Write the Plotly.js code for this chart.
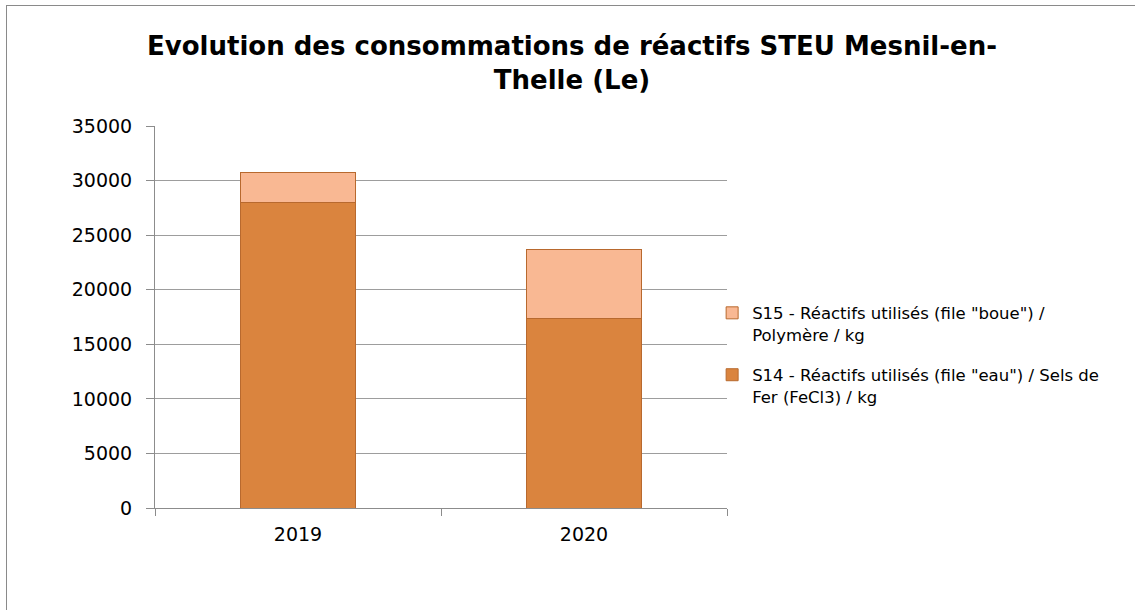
<!DOCTYPE html>
<html>
<head>
<meta charset="utf-8">
<script src="https://cdn.plot.ly/plotly-3.0.1.min.js"></script>
<style>
html,body{margin:0;padding:0;background:#fff;overflow:hidden;}
#wrap{position:relative;width:1135px;height:610px;overflow:hidden;}
#chart{position:absolute;left:0;top:0;width:1135px;height:610px;}
#frame{position:absolute;left:6px;top:5px;width:1160px;height:640px;border:1.5px solid #8a8a8a;pointer-events:none;}
</style>
</head>
<body>
<div id="wrap"><div id="chart"></div><div id="frame"></div></div>
<script>
const categories = ["2019", "2020"];
const s14Values = [28000, 17400];
const s15Values = [2750, 6250];
const s14Name = "S14 - Réactifs utilisés (file \"eau\") / Sels de<br>Fer (FeCl3) / kg";
const s15Name = "S15 - Réactifs utilisés (file \"boue\") /<br>Polymère / kg";
const yTicks = [0, 5000, 10000, 15000, 20000, 25000, 30000, 35000];
const titleText = "Evolution des consommations de réactifs STEU Mesnil-en-<br>Thelle (Le)";

const FONT = "DejaVu Sans, sans-serif";

const data = [
  {
    type: "bar", x: categories, y: s14Values, name: s14Name,
    legendgroup: "s14", legendrank: 2,
    marker: {color: "#DA843E", line: {color: "#B8692E", width: 1}},
    width: 0.4
  },
  {
    type: "bar", x: categories, y: s15Values, name: s15Name,
    legendgroup: "s15", legendrank: 1,
    marker: {color: "#F9B893", line: {color: "#B8692E", width: 1}},
    width: 0.4
  }
];

const layout = {
  width: 1135, height: 610,
  margin: {l: 155, r: 408, t: 126, b: 102},
  paper_bgcolor: "#ffffff", plot_bgcolor: "#ffffff",
  barmode: "stack",
  font: {family: FONT, color: "#000"},
  annotations: [{
    text: titleText,
    xref: "paper", yref: "paper",
    x: 0.729, y: 1.166, xanchor: "center", yanchor: "middle",
    showarrow: false, align: "center",
    font: {family: FONT, size: 26, color: "#000", weight: "bold"}
  }],
  xaxis: {
    type: "category",
    tickson: "boundaries",
    ticks: "outside", ticklen: 7, tickcolor: "#8c8c8c", tickwidth: 1,
    showline: true, linecolor: "#8c8c8c", linewidth: 1,
    showgrid: false,
    ticklabelstandoff: 9,
    tickfont: {size: 19, family: FONT, color: "#000"}
  },
  yaxis: {
    range: [0, 35000],
    tickvals: yTicks,
    ticktext: yTicks.map(String),
    ticks: "outside", ticklen: 8, tickcolor: "#8c8c8c", tickwidth: 1,
    showline: true, linecolor: "#8c8c8c", linewidth: 1,
    showgrid: true, gridcolor: "#9d9d9d", gridwidth: 1,
    zeroline: false,
    ticklabelstandoff: 10,
    tickfont: {size: 19, family: FONT, color: "#000"}
  },
  showlegend: true,
  legend: {
    traceorder: "grouped",
    tracegroupgap: 16,
    x: 0.974, xanchor: "left", y: 0.556, yanchor: "top",
    valign: "top",
    font: {size: 16.5, family: FONT, color: "#000"},
    itemwidth: 30,
    bgcolor: "rgba(0,0,0,0)"
  }
};

Plotly.newPlot("chart", data, layout, {displayModeBar: false, staticPlot: true});
</script>
</body>
</html>
